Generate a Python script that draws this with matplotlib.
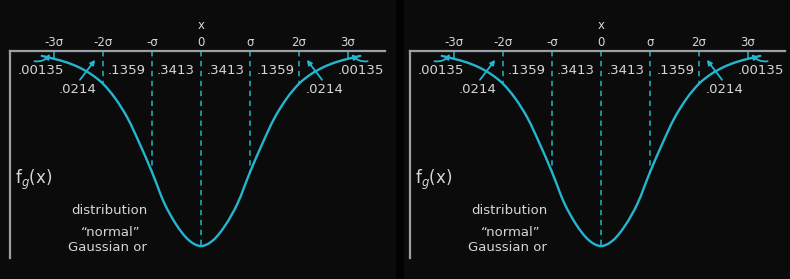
import matplotlib
matplotlib.use("Agg")
import matplotlib.pyplot as plt
from matplotlib.patches import Rectangle, PathPatch
from matplotlib.path import Path

# ---- data (x in units of sigma, curve height as density) ----
curve_x = [-3.25, -3.0, -2.75, -2.5, -2.25, -2.0, -1.75, -1.5, -1.25, -1.0, -0.75, -0.5, -0.25,
           0.0, 0.25, 0.5, 0.75, 1.0, 1.25, 1.5, 1.75, 2.0, 2.25, 2.5, 2.75, 3.0, 3.25]
curve_y = [0.010, 0.016, 0.023, 0.033, 0.047, 0.067, 0.097, 0.137, 0.190, 0.248, 0.311, 0.356, 0.387,
           0.399, 0.387, 0.356, 0.311, 0.248, 0.190, 0.137, 0.097, 0.067, 0.047, 0.033, 0.023, 0.016, 0.010]
tick_pos = [-3, -2, -1, 0, 1, 2, 3]
tick_labels = ["-3σ", "-2σ", "-σ", "0", "σ", "2σ", "3σ"]
area_pos = [-3.27, -1.52, -0.51, 0.51, 1.52, 3.27]
area_labels = [".00135", ".1359", ".3413", ".3413", ".1359", ".00135"]
tail_label = ".0214"
y_label = "f$_g$(x)"
x_label = "x"
caption_lines = ["distribution", "“normal”", "Gaussian or"]

BG = "#0b0b0b"
CYAN = "#25b6cf"
DASH = "#1a9db0"
AXC = "#9aa0a6"
TXT = "#d6d6d6"

W, H = 790, 279
fig = plt.figure(figsize=(W / 100, H / 100), dpi=100, facecolor=BG)
fig.patches.append(Rectangle((396 / W, 0), 7 / W, 1, transform=fig.transFigure,
                             color="#020202", zorder=0))

center_px, sigma_px, axis_top, axis_bot = 201, 49, 51, 258
peak_px = 195.0
ymax = (axis_bot - axis_top) / peak_px * 0.399


def smooth_path(xs, ys):
    """Catmull-Rom curve through the read points, as cubic Bezier segments."""
    verts = [(xs[0], ys[0])]
    codes = [Path.MOVETO]
    n = len(xs)
    for i in range(n - 1):
        x0, y0 = (xs[i - 1], ys[i - 1]) if i > 0 else (xs[i], ys[i])
        x1, y1 = xs[i], ys[i]
        x2, y2 = xs[i + 1], ys[i + 1]
        x3, y3 = (xs[i + 2], ys[i + 2]) if i + 2 < n else (xs[i + 1], ys[i + 1])
        c1 = (x1 + (x2 - x0) / 6, y1 + (y2 - y0) / 6)
        c2 = (x2 - (x3 - x1) / 6, y2 - (y3 - y1) / 6)
        verts += [c1, c2, (x2, y2)]
        codes += [Path.CURVE4] * 3
    return Path(verts, codes)


def draw_panel(ox):
    left, right = 10 + ox, 385 + ox
    ax = fig.add_axes([left / W, (H - axis_bot) / H, (right - left) / W, (axis_bot - axis_top) / H])
    ax.set_facecolor("none")
    ax.set_xlim((10 - center_px) / sigma_px, (385 - center_px) / sigma_px)
    ax.set_ylim(ymax, 0)
    for s in ["right", "bottom"]:
        ax.spines[s].set_visible(False)
    for s in ["top", "left"]:
        ax.spines[s].set_color(AXC)
        ax.spines[s].set_linewidth(1.6)
    ax.set_xticks([])
    ax.set_yticks([])

    # curve
    ax.add_patch(PathPatch(smooth_path(curve_x, curve_y), facecolor="none",
                           edgecolor=CYAN, lw=1.7, capstyle="round", zorder=3))

    # vertical markers from axis to curve
    for k in tick_pos:
        h = curve_y[curve_x.index(float(k))]
        if abs(k) == 3:
            ax.plot([k, k], [0, h], color=DASH, lw=1.3, zorder=2)
        else:
            ax.plot([k, k], [0, h], color=DASH, lw=1.3, ls=(0, (3, 2.5)), zorder=2)

    # tick labels
    for k, lab in zip(tick_pos, tick_labels):
        ax.text(k, -0.0164, lab, color=TXT, fontsize=8.5, ha="center", va="center", clip_on=False)
    ax.text(0, -0.053, x_label, color=TXT, fontsize=8.5, ha="center", va="center", clip_on=False)

    # area labels
    for p, lab in zip(area_pos, area_labels):
        ax.text(p, 0.0389, lab, color=TXT, fontsize=9.5, ha="center", va="center", clip_on=False)
    for sgn in (-1, 1):
        ax.text(sgn * 2.52, 0.0798, tail_label, color=TXT, fontsize=9.5, ha="center", va="center")
        ax.annotate("", xy=(sgn * 2.16, 0.018), xytext=(sgn * 2.47, 0.059),
                    arrowprops=dict(arrowstyle="-|>", color=CYAN, lw=1.3,
                                    mutation_scale=7, shrinkA=0, shrinkB=0))
        ax.annotate("", xy=(sgn * 3.08, 0.006), xytext=(sgn * 3.40, 0.021),
                    arrowprops=dict(arrowstyle="-|>", color=CYAN, lw=1.3, mutation_scale=7,
                                    shrinkA=0, shrinkB=0,
                                    connectionstyle="arc3,rad=%.2f" % (-0.3 * sgn)),
                    annotation_clip=False)

    # y label
    ax.text((34 - center_px) / sigma_px, 0.264, y_label, color=TXT, fontsize=12,
            ha="center", va="center")

    # caption
    cap_x = [109, 111, 107]
    cap_y = [211, 232, 247]
    for lab, cx, cy in zip(caption_lines, cap_x, cap_y):
        ax.text((cx - center_px) / sigma_px, (cy - axis_top) / peak_px * 0.399, lab,
                color=TXT, fontsize=9.5, ha="center", va="center")


draw_panel(0)
draw_panel(400)

fig.savefig("out.png", dpi=100, facecolor=BG)
